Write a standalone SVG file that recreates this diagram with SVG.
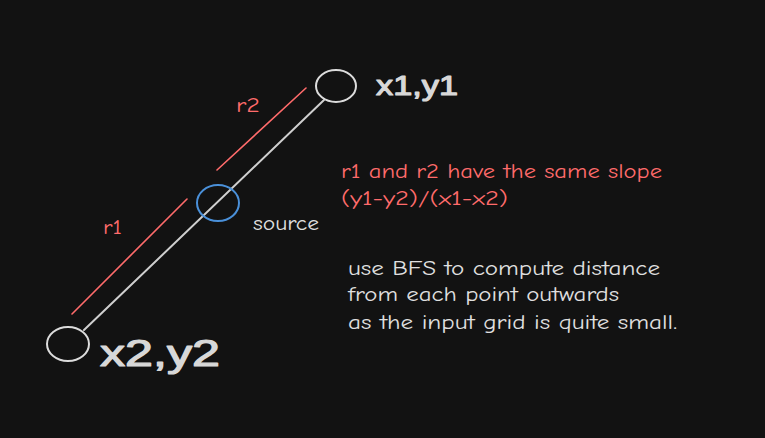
<svg xmlns="http://www.w3.org/2000/svg" width="765" height="438" viewBox="0 0 765 438">
<style>
.bg{fill:#121212}
.node{fill:none;stroke:#dcdcdc;stroke-width:2}
.src{fill:none;stroke:#4a90d9;stroke-width:2}
.conn{stroke:#cfcfcf;stroke-width:2;fill:none;stroke-linecap:round}
.red{stroke:#ff6b6b;stroke-width:1.6;fill:none;stroke-linecap:round}
.t{font-family:"Comic Neue","Liberation Sans",sans-serif;font-size:21px}
.tw{fill:#e0e0e0}
.tr{fill:#ff6b6b}
.hand{font-family:"Liberation Sans",sans-serif;fill:#d8d8d8;stroke:#d8d8d8;stroke-width:1.2;stroke-linejoin:round}
</style>
<rect class="bg" x="0" y="0" width="765" height="438"/>
<g id="connectors">
<line class="conn" x1="324" y1="100" x2="84" y2="330"/>
<line class="red" x1="306" y1="88" x2="217" y2="170"/>
<line class="red" x1="187" y1="199" x2="72" y2="314"/>
</g>
<g id="node-x1y1">
<ellipse class="node" cx="336" cy="86" rx="20" ry="16"/>
<text class="hand" x="376" y="95" font-size="28" textLength="82" lengthAdjust="spacingAndGlyphs">x1,y1</text>
</g>
<g id="node-x2y2">
<ellipse class="node" cx="68" cy="344" rx="21" ry="17"/>
<text class="hand" x="100" y="366" font-size="36" textLength="120" lengthAdjust="spacingAndGlyphs">x2,y2</text>
</g>
<g id="node-source">
<ellipse class="src" cx="218" cy="203" rx="21" ry="18"/>
<text class="t tw" x="253" y="230" textLength="66" lengthAdjust="spacingAndGlyphs">source</text>
</g>
<g id="labels">
<text class="t tr" x="236" y="112" textLength="24" lengthAdjust="spacingAndGlyphs">r2</text>
<text class="t tr" x="103" y="234" textLength="19" lengthAdjust="spacingAndGlyphs">r1</text>
<text class="t tr" x="341" y="178" textLength="321" lengthAdjust="spacingAndGlyphs">r1 and r2 have the same slope</text>
<text class="t tr" x="341" y="205" textLength="167" lengthAdjust="spacingAndGlyphs">(y1-y2)/(x1-x2)</text>
<text class="t tw" x="348" y="275" textLength="312" lengthAdjust="spacingAndGlyphs">use BFS to compute distance</text>
<text class="t tw" x="348" y="301" textLength="271" lengthAdjust="spacingAndGlyphs">from each point outwards</text>
<text class="t tw" x="348" y="329" textLength="329" lengthAdjust="spacingAndGlyphs">as the input grid is quite small.</text>
</g>
</svg>
